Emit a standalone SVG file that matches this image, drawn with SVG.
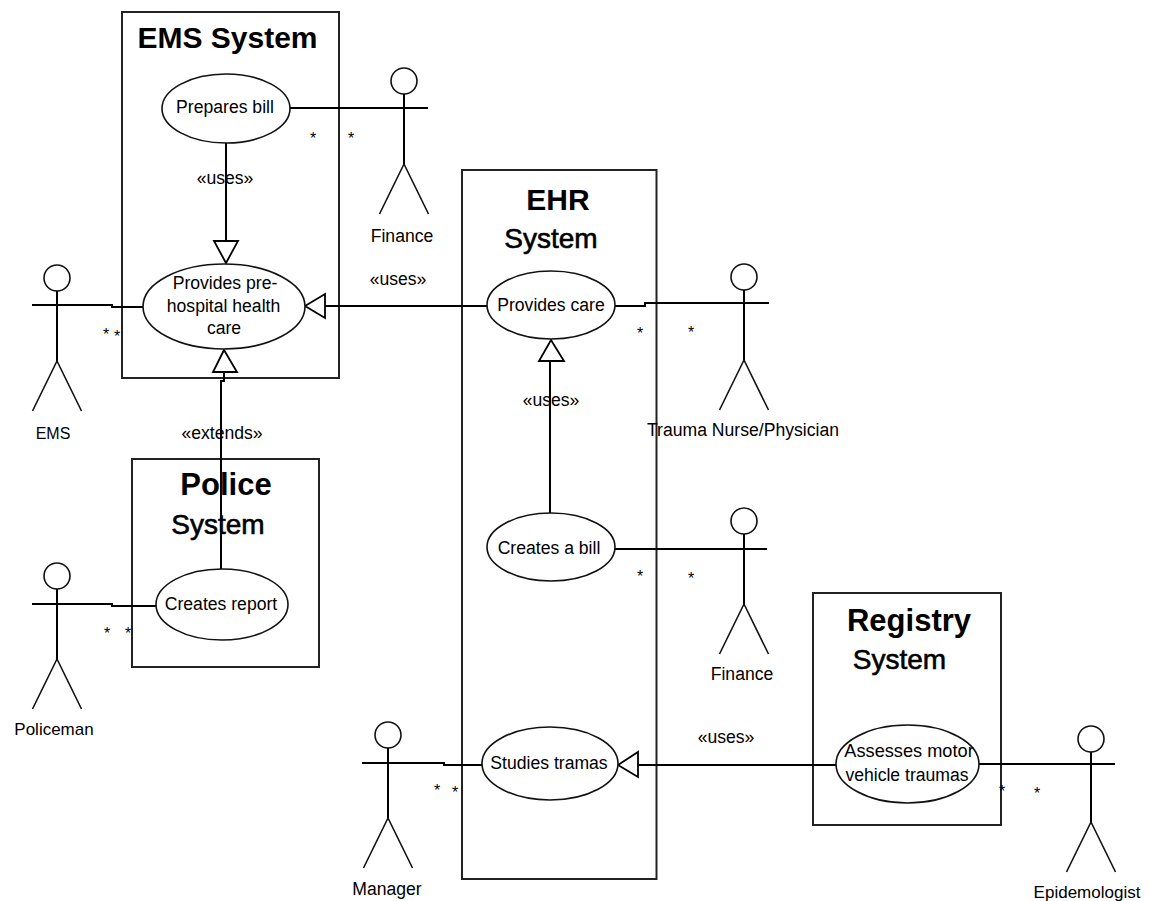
<svg xmlns="http://www.w3.org/2000/svg" width="1149" height="901" viewBox="0 0 1149 901">
<style>
.l{fill:none;stroke:#000;stroke-width:2}
.a{fill:none;stroke:#111;stroke-width:1.6}
.b{fill:none;stroke:#222;stroke-width:2}
.u{fill:#fff;stroke:#000;stroke-width:1.8}
.h{fill:#fff;stroke:#111;stroke-width:1.6}
text{font-family:"Liberation Sans",Arial,sans-serif;fill:#000;text-anchor:middle}
.t{font-size:17.6px}
.s{font-size:30px;font-weight:bold}
.r{font-size:28px;stroke:#000;stroke-width:.6}
.m{font-size:16px}
</style>
<defs>
<g id="actor"><circle cx="0" cy="0" r="13" class="a"/><path class="l" d="M0 13V83"/><path class="a" d="M0 83L-24.500 133M0 83L24.500 133"/></g>
</defs>
<rect width="1149" height="901" fill="#fff"/>
<g id="sys-ems"><rect class="b" x="122" y="12" width="217" height="366"/><text class="s" x="227.500" y="48">EMS System</text></g>
<g id="sys-ehr"><rect class="b" x="462" y="170" width="194.500" height="709"/><text class="s" x="558" y="210">EHR</text><text class="r" x="551" y="248">System</text></g>
<g id="sys-police"><rect class="b" x="132" y="459" width="187" height="208"/><text class="s" x="226" y="495" style="font-size:31px">Police</text><text class="r" x="218" y="534">System</text></g>
<g id="sys-registry"><rect class="b" x="813" y="593" width="188" height="232"/><text class="s" x="909" y="631" style="font-size:31px">Registry</text><text class="r" x="899.500" y="669">System</text></g>
<g id="connectors">
<path class="l" d="M290 108H404"/>
<path class="l" d="M226 143V241"/><path class="u" d="M214 241H238L226 263Z"/>
<path class="l" d="M57 305H112V307H143"/>
<path class="l" d="M325 306H487"/><path class="u" d="M305 306L325 294V318Z"/>
<path class="l" d="M221 569V381H224V372"/><path class="u" d="M213 372H237L224 350Z"/>
<path class="l" d="M57 604H112V606H156"/>
<path class="l" d="M615 306H645V303H744"/>
<path class="l" d="M550 513V361"/><path class="u" d="M539 361H564L551 340Z"/>
<path class="l" d="M615 549H744"/>
<path class="l" d="M388 763H444V765H482"/>
<path class="l" d="M638 765H836"/><path class="u" d="M638 752V777L618 765Z"/>
<path class="l" d="M979 764H1091"/>
</g>
<g id="uc-prepares"><ellipse class="h" cx="226" cy="108.500" rx="64" ry="34.500"/><text class="t" x="225" y="113">Prepares bill</text></g>
<g id="uc-provides-pre"><ellipse class="h" cx="224" cy="306.500" rx="81" ry="42.500"/><text class="t" x="225" y="289">Provides pre-</text><text class="t" x="223.500" y="312">hospital health</text><text class="t" x="224" y="334">care</text></g>
<g id="uc-report"><ellipse class="h" cx="222" cy="604.500" rx="66" ry="35.500"/><text class="t" x="221" y="610">Creates report</text></g>
<g id="uc-care"><ellipse class="h" cx="551" cy="305" rx="64" ry="34"/><text class="t" x="551" y="311">Provides care</text></g>
<g id="uc-bill"><ellipse class="h" cx="551" cy="547" rx="64" ry="34"/><text class="t" x="549" y="554">Creates a bill</text></g>
<g id="uc-studies"><ellipse class="h" cx="550" cy="763.500" rx="68" ry="36.500"/><text class="t" x="549" y="769">Studies tramas</text></g>
<g id="uc-assesses"><ellipse class="h" cx="907.500" cy="764" rx="71.500" ry="39"/><text class="t" x="909" y="757" style="font-size:18.200px">Assesses motor</text><text class="t" x="907" y="781">vehicle traumas</text></g>
<g id="a-finance1"><use href="#actor" x="404" y="81"/><path class="l" d="M379 108H428"/><text class="t" x="402" y="242">Finance</text></g>
<g id="a-ems"><use href="#actor" x="57" y="278"/><path class="l" d="M32 305H82"/><text class="t" x="53" y="439" style="font-size:16px">EMS</text></g>
<g id="a-police"><use href="#actor" x="57" y="576"/><path class="l" d="M32 604H82"/><text class="t" x="54" y="735" style="font-size:17px">Policeman</text></g>
<g id="a-nurse"><use href="#actor" x="744" y="277"/><path class="l" d="M719 303H769"/><text class="t" x="743" y="436">Trauma Nurse/Physician</text></g>
<g id="a-finance2"><use href="#actor" x="744" y="521"/><path class="l" d="M719 549H767"/><text class="t" x="742" y="680">Finance</text></g>
<g id="a-manager"><use href="#actor" x="388" y="735"/><path class="l" d="M362 763H413"/><text class="t" x="387" y="895">Manager</text></g>
<g id="a-epi"><use href="#actor" x="1091" y="739"/><path class="l" d="M1066 764H1115"/><text class="t" x="1087" y="898" style="font-size:17px">Epidemologist</text></g>
<g id="labels">
<text class="t" x="225" y="184">«uses»</text>
<text class="t" x="398" y="285">«uses»</text>
<text class="t" x="222" y="439">«extends»</text>
<text class="t" x="551" y="406">«uses»</text>
<text class="t" x="726" y="743">«uses»</text>
<text class="m" x="313" y="144">*</text><text class="m" x="351" y="144">*</text>
<text class="m" x="106" y="340">*</text><text class="m" x="117" y="342">*</text>
<text class="m" x="107" y="639">*</text><text class="m" x="128" y="639">*</text>
<text class="m" x="640" y="339">*</text><text class="m" x="691" y="338">*</text>
<text class="m" x="640" y="582">*</text><text class="m" x="691" y="584">*</text>
<text class="m" x="437" y="796">*</text><text class="m" x="455" y="798">*</text>
<text class="m" x="1002" y="797">*</text><text class="m" x="1037" y="799">*</text>
</g>
</svg>
